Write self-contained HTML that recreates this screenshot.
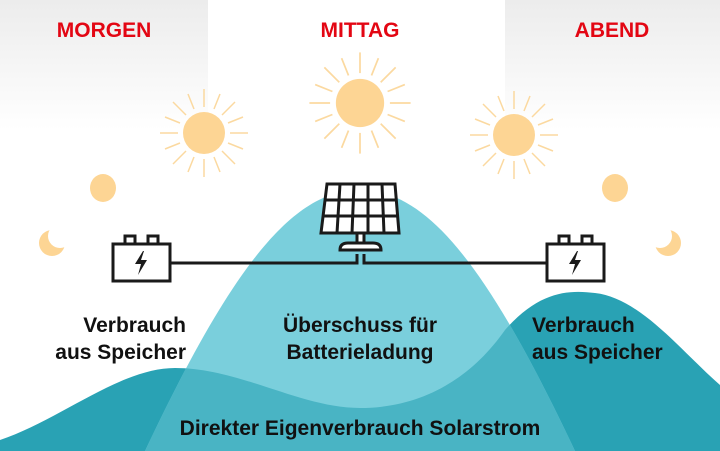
<!DOCTYPE html>
<html><head><meta charset="utf-8"><style>
html,body{margin:0;padding:0;width:720px;height:451px;overflow:hidden;background:#fff}
text{font-family:"Liberation Sans",Arial,sans-serif;font-weight:bold}
</style></head><body>
<svg width="720" height="451" viewBox="0 0 720 451" xmlns="http://www.w3.org/2000/svg">
<defs>
<linearGradient id="g" x1="0" y1="0" x2="0" y2="1">
<stop offset="0" stop-color="#ececec"/><stop offset="1" stop-color="#fff"/></linearGradient>
<clipPath id="wc"><path d="M0,440 C60,420 120,368 175,368 C240,368 300,408 360,408 C420,408 470,380 505,330 C540,290 570,290 595,293 C640,298 680,350 720,385 L720,451 L0,451 Z"/></clipPath>
<g id="sun"><g stroke="#fbd9a0" stroke-width="1.5">
<line x1="0" y1="-26" x2="0" y2="-44"/><line x1="0" y1="26" x2="0" y2="44"/>
<line x1="-26" y1="0" x2="-44" y2="0"/><line x1="26" y1="0" x2="44" y2="0"/>
<line x1="18" y1="18" x2="31" y2="31"/><line x1="-18" y1="18" x2="-31" y2="31"/>
<line x1="18" y1="-18" x2="31" y2="-31"/><line x1="-18" y1="-18" x2="-31" y2="-31"/>
<line x1="10" y1="-24" x2="16" y2="-39"/><line x1="-10" y1="-24" x2="-16" y2="-39"/>
<line x1="10" y1="24" x2="16" y2="39"/><line x1="-10" y1="24" x2="-16" y2="39"/>
<line x1="24" y1="10" x2="39" y2="16"/><line x1="-24" y1="10" x2="-39" y2="16"/>
<line x1="24" y1="-10" x2="39" y2="-16"/><line x1="-24" y1="-10" x2="-39" y2="-16"/>
</g><circle r="21" fill="#fdd594"/></g>
<g id="bat" fill="#fff" stroke="#1a1a1a" stroke-width="3">
<rect x="12" y="0" width="10" height="8"/><rect x="35" y="0" width="10" height="8"/>
<rect x="0" y="8" width="57" height="37"/>
<path d="M30,15 L22,28 L28,28 L25,39 L34,24 L28,24 L31,15 Z" fill="#1a1a1a" stroke="none"/>
</g>
</defs>
<rect x="0" y="0" width="208" height="130" fill="url(#g)"/>
<rect x="505" y="0" width="215" height="130" fill="url(#g)"/>
<g fill="#e30613" font-size="21" text-anchor="middle">
<text x="104" y="37">MORGEN</text>
<text x="360" y="37">MITTAG</text>
<text x="612" y="37">ABEND</text>
</g>
<use href="#sun" transform="translate(204,133)"/>
<use href="#sun" transform="translate(360,103) scale(1.15)"/>
<use href="#sun" transform="translate(514,135)"/>
<ellipse cx="103" cy="188" rx="13" ry="14" fill="#fdd594"/>
<ellipse cx="615" cy="188" rx="13" ry="14" fill="#fdd594"/>
<circle cx="52" cy="243" r="13" fill="#fdd594"/><circle cx="60" cy="236" r="12" fill="#fff"/>
<circle cx="668" cy="243" r="13" fill="#fdd594"/><circle cx="660" cy="236" r="12" fill="#fff"/>
<!-- hills -->
<path d="M0,440 C60,420 120,368 175,368 C240,368 300,408 360,408 C420,408 470,380 505,330 C540,290 570,290 595,293 C640,298 680,350 720,385 L720,451 L0,451 Z" fill="#29a2b4"/>
<path d="M145,451 C235,260 295,190 360,190 C425,190 485,260 575,451 Z" fill="#7acfdc"/>
<path d="M145,451 C235,260 295,190 360,190 C425,190 485,260 575,451 Z" fill="#49b4c4" clip-path="url(#wc)"/>
<!-- wire -->
<path d="M170,263 H357 V254 M548,263 H364 V254" fill="none" stroke="#1a1a1a" stroke-width="3"/>
<!-- panel -->
<g stroke="#1a1a1a" stroke-width="3" fill="#fff">
<rect x="357" y="233" width="7" height="10"/>
<path d="M340,250 Q340,243 348,243 H373 Q381,243 381,250 Z"/>
<path d="M327,184 H395 L399,233 H321 Z"/>
<path d="M340,184 L337,233 M354,184 L352,233 M368,184 L368,233 M382,184 L384,233 M325,200 H396 M323,216 H397" fill="none"/>
</g>
<use href="#bat" transform="translate(113,236)"/>
<use href="#bat" transform="translate(547,236)"/>
<g fill="#111" font-size="21">
<text x="186" y="332" text-anchor="end">Verbrauch</text>
<text x="186" y="359" text-anchor="end">aus Speicher</text>
<text x="360" y="332" text-anchor="middle">Überschuss für</text>
<text x="360" y="359" text-anchor="middle">Batterieladung</text>
<text x="532" y="332">Verbrauch</text>
<text x="532" y="359">aus Speicher</text>
<text x="360" y="435" text-anchor="middle">Direkter Eigenverbrauch Solarstrom</text>
</g>
</svg>
</body></html>
